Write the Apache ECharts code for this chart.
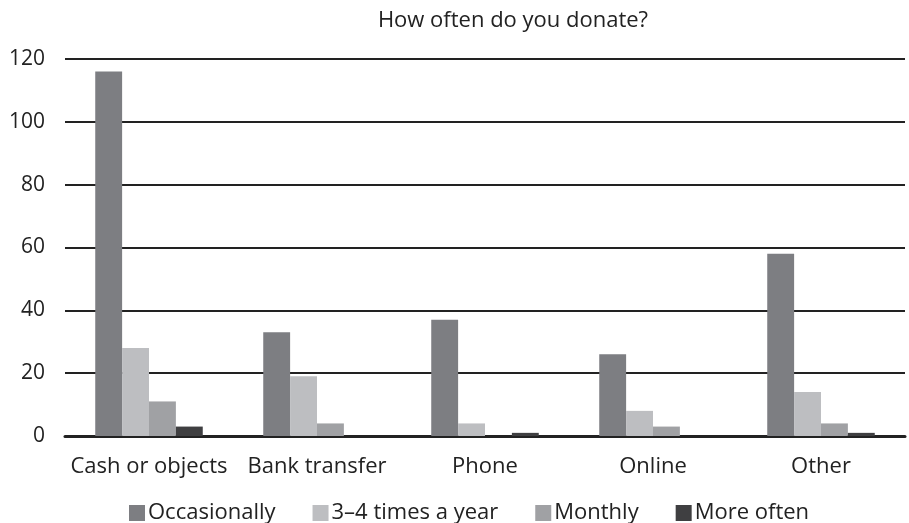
<!DOCTYPE html>
<html><head><meta charset="utf-8">
<script src="https://cdn.jsdelivr.net/npm/echarts@6/dist/echarts.min.js"></script>
<style>html,body{margin:0;padding:0;background:#fff}#c{width:909px;height:523px}</style>
</head><body><div id="c"></div>
<script>
const categories = ["Cash or objects", "Bank transfer", "Phone", "Online", "Other"];
const seriesNames = ["Occasionally", "3–4 times a year", "Monthly", "More often"];
const occasionally = [116, 33, 37, 26, 58];
const timesAYear = [28, 19, 4, 8, 14];
const monthly = [11, 4, 0, 3, 4];
const moreOften = [3, 0, 1, 0, 1];
const yTicks = [0, 20, 40, 60, 80, 100, 120];

const colors = ["#7d7e82", "#bdbec1", "#a0a1a4", "#3f3f41"];
const values = [occasionally, timesAYear, monthly, moreOften];
const FONT = "Open Sans";
const chart = echarts.init(document.getElementById('c'), null, {renderer: 'canvas'});
chart.setOption({
  animation: false,
  color: colors,
  title: {
    text: "How often do you donate?",
    left: 508, top: 5, textAlign: 'center',
    textStyle: {fontFamily: FONT, fontSize: 22, fontWeight: 'normal', color: '#222'}
  },
  legend: {
    top: 497, left: 124,
    itemWidth: 16, itemHeight: 16, itemGap: 37,
    icon: 'rect',
    textStyle: {fontFamily: FONT, fontSize: 22, color: '#222', padding: [0, 0, 0, -2]},
    data: seriesNames
  },
  grid: {left: 65, right: 4, top: 59, bottom: 87, containLabel: false},
  xAxis: {
    type: 'category', data: categories,
    axisLine: {lineStyle: {color: '#222', width: 3}},
    axisTick: {show: false},
    axisLabel: {fontFamily: FONT, fontSize: 22, color: '#222', margin: 20, interval: 0}
  },
  yAxis: {
    type: 'value', min: yTicks[0], max: yTicks[yTicks.length - 1], interval: 20,
    axisLine: {show: false}, axisTick: {show: false},
    axisLabel: {fontFamily: FONT, fontSize: 21, color: '#222', margin: 20},
    splitLine: {lineStyle: {color: '#222', width: 2}}
  },
  series: seriesNames.map((n, i) => ({
    name: n, type: 'bar', data: values[i],
    barGap: '0%', barCategoryGap: '36%',
    itemStyle: {color: colors[i]}
  }))
});
</script></body></html>
